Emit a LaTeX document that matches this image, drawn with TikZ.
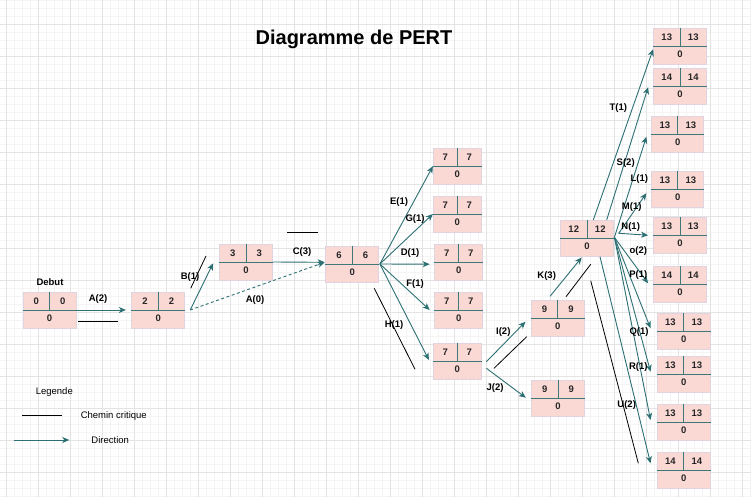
\documentclass[tikz,border=0pt]{standalone}
\usepackage{fontspec}
\setmainfont{Liberation Sans}
\usetikzlibrary{arrows.meta,calc}
\definecolor{tealarr}{HTML}{2D7073}
\definecolor{pinkf}{HTML}{FAD9D5}
\definecolor{pinkb}{HTML}{E2D3E0}
\definecolor{divc}{HTML}{3E7878}
\definecolor{gmaj}{HTML}{E3E3E3}
\definecolor{gmin}{HTML}{F4F4F4}
\tikzset{
  pbox/.style={rectangle, draw=pinkb, fill=pinkf, line width=0.8pt, minimum height=36pt, inner sep=0pt},
  divline/.style={draw=divc, line width=0.9pt},
  num/.style={font=\fontsize{9.5}{11}\selectfont\bfseries, text=black!85, inner sep=0pt},
  lbl/.style={font=\fontsize{9.5}{11}\selectfont\bfseries, inner sep=0pt},
  leg/.style={font=\fontsize{9.5}{11}\selectfont, inner sep=0pt},
  arr/.style={draw=tealarr, line width=0.9pt, -{Stealth[length=7pt,width=6pt,inset=2pt]}},
  crit/.style={draw=black, line width=0.8pt},
  gridmin/.style={draw=gmin, line width=0.5pt},
  gridmaj/.style={draw=gmaj, line width=0.7pt}
}
\newcommand{\pertnode}[6]{%
  \node[pbox, minimum width=#4pt] (#1) at (#2,#3) {};
  \draw[divline] (#1.west) -- (#1.east);
  \draw[divline] (#1.north) -- (#1.center);
  \node[num] at ($(#1.center)+(-#4/4,-9)$) {#5};
  \node[num] at ($(#1.center)+(#4/4,-9)$) {#6};
  \node[num] at ($(#1.center)+(0,8)$) {0};
}
\begin{document}
\begin{tikzpicture}[x=1pt,y=-1pt]
\useasboundingbox (0,0) rectangle (751,497);
\fill[white] (0,0) rectangle (751,497);
% grid
\foreach \i in {0,...,94} {
  \draw[gridmin] ({-1.7+8*\i},0) -- ({-1.7+8*\i},497);
}
\foreach \i in {0,...,63} {
  \draw[gridmin] (0,{0.3+8*\i}) -- (751,{0.3+8*\i});
}
\foreach \i in {0,...,23} {
  \draw[gridmaj] ({6.3+32*\i},0) -- ({6.3+32*\i},497);
}
\foreach \i in {-1,...,15} {
  \draw[gridmaj] (0,{24.3+32*\i}) -- (751,{24.3+32*\i});
}
% title
\node[font=\fontsize{20}{24}\selectfont\bfseries, anchor=base, inner sep=0pt] (title) at (354,45) {Diagramme de PERT};
% nodes
\pertnode{d}{49.5}{310}{53}{0}{0}
\node[lbl] (debut) at (50,281.7) {Debut};
\pertnode{n2}{158.3}{310}{53}{2}{2}
\pertnode{n3}{246}{262}{53}{3}{3}
\pertnode{n6}{352.3}{264}{53}{6}{6}
\pertnode{e7}{457.3}{166.2}{48}{7}{7}
\pertnode{g7}{457.3}{214}{48}{7}{7}
\pertnode{d7}{458.8}{262.2}{48}{7}{7}
\pertnode{f7}{458.8}{310}{48}{7}{7}
\pertnode{h7}{457.3}{361}{48}{7}{7}
\pertnode{i9}{557.7}{318}{53}{9}{9}
\pertnode{j9}{558}{398}{53}{9}{9}
\pertnode{k12}{587}{238.3}{53}{12}{12}
\pertnode{t13}{680}{46.2}{53}{13}{13}
\pertnode{s14}{680}{86.2}{53}{14}{14}
\pertnode{l13}{677.8}{134.2}{52}{13}{13}
\pertnode{m13}{677.8}{189.2}{52}{13}{13}
\pertnode{n13}{680}{235.2}{53}{13}{13}
\pertnode{p14}{680}{284.7}{53}{14}{14}
\pertnode{q13}{683.7}{331.2}{53}{13}{13}
\pertnode{r13}{683.7}{374.5}{53}{13}{13}
\pertnode{v13}{683.7}{422.2}{53}{13}{13}
\pertnode{u14}{683.7}{470.3}{53}{14}{14}
% connectors
\draw[arr] (d.east) -- ($(n2.west)+(-5.5,0)$);
\draw[arr] ($(n2.east)+(5,0)$) -- ($(n3.west)+(-6,1.3)$);
\coordinate (cin) at ($(n3.east -| n6.west)+(-0.7,0.3)$);
\draw[arr, dash pattern=on 3pt off 2.5pt] ($(n2.east)+(5,0)$) -- (cin);
\draw[arr] (n3.east) -- (cin);
\coordinate (o6) at ($(n6.east)+(0.7,0)$);
\draw[arr] (o6) -- (e7.west);
\draw[arr] (o6) -- (g7.west);
\draw[arr] (o6) -- ($(d7.west)+(-4.7,2)$);
\draw[arr] (o6) -- ($(f7.west)+(-4.7,0)$);
\draw[arr] (o6) -- ($(h7.west)+(-4,-1)$);
\draw[arr] ($(h7.east)+(4.7,0.7)$) -- ($(i9.west)+(-5.3,3.7)$);
\draw[arr] ($(h7.east)+(4.7,7.3)$) -- ($(j9.west)+(-5.3,-0.3)$);
\draw[arr] ($(i9.north)+(-7.7,-3.3)$) -- ($(k12.south)+(-5.3,0.7)$);
\draw[arr] ($(k12.north)+(6.3,0)$) -- ($(t13.west)+(0,3)$);
\draw[arr] ($(k12.north)+(19.7,0)$) -- ($(s14.west)+(-5,1)$);
\coordinate (o12) at ($(k12.east)+(0.5,-1)$);
\coordinate (o12b) at ($(k12.east)+(4.8,-5)$);
\draw[arr] (o12) -- ($(l13.west)+(-5,2.5)$);
\draw[arr] (o12b) -- ($(m13.west)+(-5,4)$);
\draw[arr] (o12b) -- ($(n13.west)+(-5,0)$);
\draw[arr] (o12) -- ($(p14.west)+(-5,-1.4)$);
\draw[arr] (o12) -- ($(q13.west)+(-6.3,-3)$);
\draw[arr] (o12) -- ($(r13.west)+(-6.3,-2.8)$);
\draw[arr] (o12) -- ($(v13.west)+(-6.3,-2.2)$);
\draw[arr] ($(k12.south)+(13,0)$) -- ($(u14.west)+(-6.3,-7)$);
% critical path marks
\draw[crit] (78,321) -- (118,321);
\draw[crit] (206,256) -- (190.7,288.3);
\draw[crit] (287,232.3) -- (318.3,232.3);
\draw[crit] (374.3,288.3) -- (415,369.3);
\draw[crit] (494,368.3) -- (526.7,336.7);
\draw[crit] (566,296.7) -- (590.7,264.3);
\draw[crit] (590.7,280.7) -- (638.3,463.3);
% labels
\node[lbl] at (98,299) {A(2)};
\node[lbl] at (190,277) {B(1)};
\node[lbl] at (255,300) {A(0)};
\node[lbl] at (302,252) {C(3)};
\node[lbl] at (399,202.3) {E(1)};
\node[lbl] at (415,219) {G(1)};
\node[lbl] at (410,253.3) {D(1)};
\node[lbl] at (415,284) {F(1)};
\node[lbl] at (394,325) {H(1)};
\node[lbl] at (503.3,331.7) {I(2)};
\node[lbl] at (495,388.3) {J(2)};
\node[lbl] at (546.7,276) {K(3)};
\node[lbl] at (618.3,108.3) {T(1)};
\node[lbl] at (625.7,163.3) {S(2)};
\node[lbl] at (639.3,179.3) {L(1)};
\node[lbl] at (631.7,206.7) {M(1)};
\node[lbl] at (630.7,227.3) {N(1)};
\node[lbl] at (638.3,250.7) {o(2)};
\node[lbl] at (638.3,275) {P(1)};
\node[lbl] at (639,331.7) {Q(1)};
\node[lbl] at (638.3,367.3) {R(1)};
\node[lbl] at (626.7,405) {U(2)};
% legend
\node[leg] (legt) at (54.3,392) {Legende};
\coordinate (lc1) at (22,415.7);
\coordinate (lc2) at (61.7,415.7);
\draw[crit] (lc1) -- (lc2);
\node[leg] (legc) at (113.8,415.7) {Chemin critique};
\coordinate (la1) at (14,440);
\coordinate (la2) at (69.3,440);
\draw[arr] (la1) -- (la2);
\node[leg] (legd) at (110.2,440) {Direction};
\end{tikzpicture}
\end{document}
